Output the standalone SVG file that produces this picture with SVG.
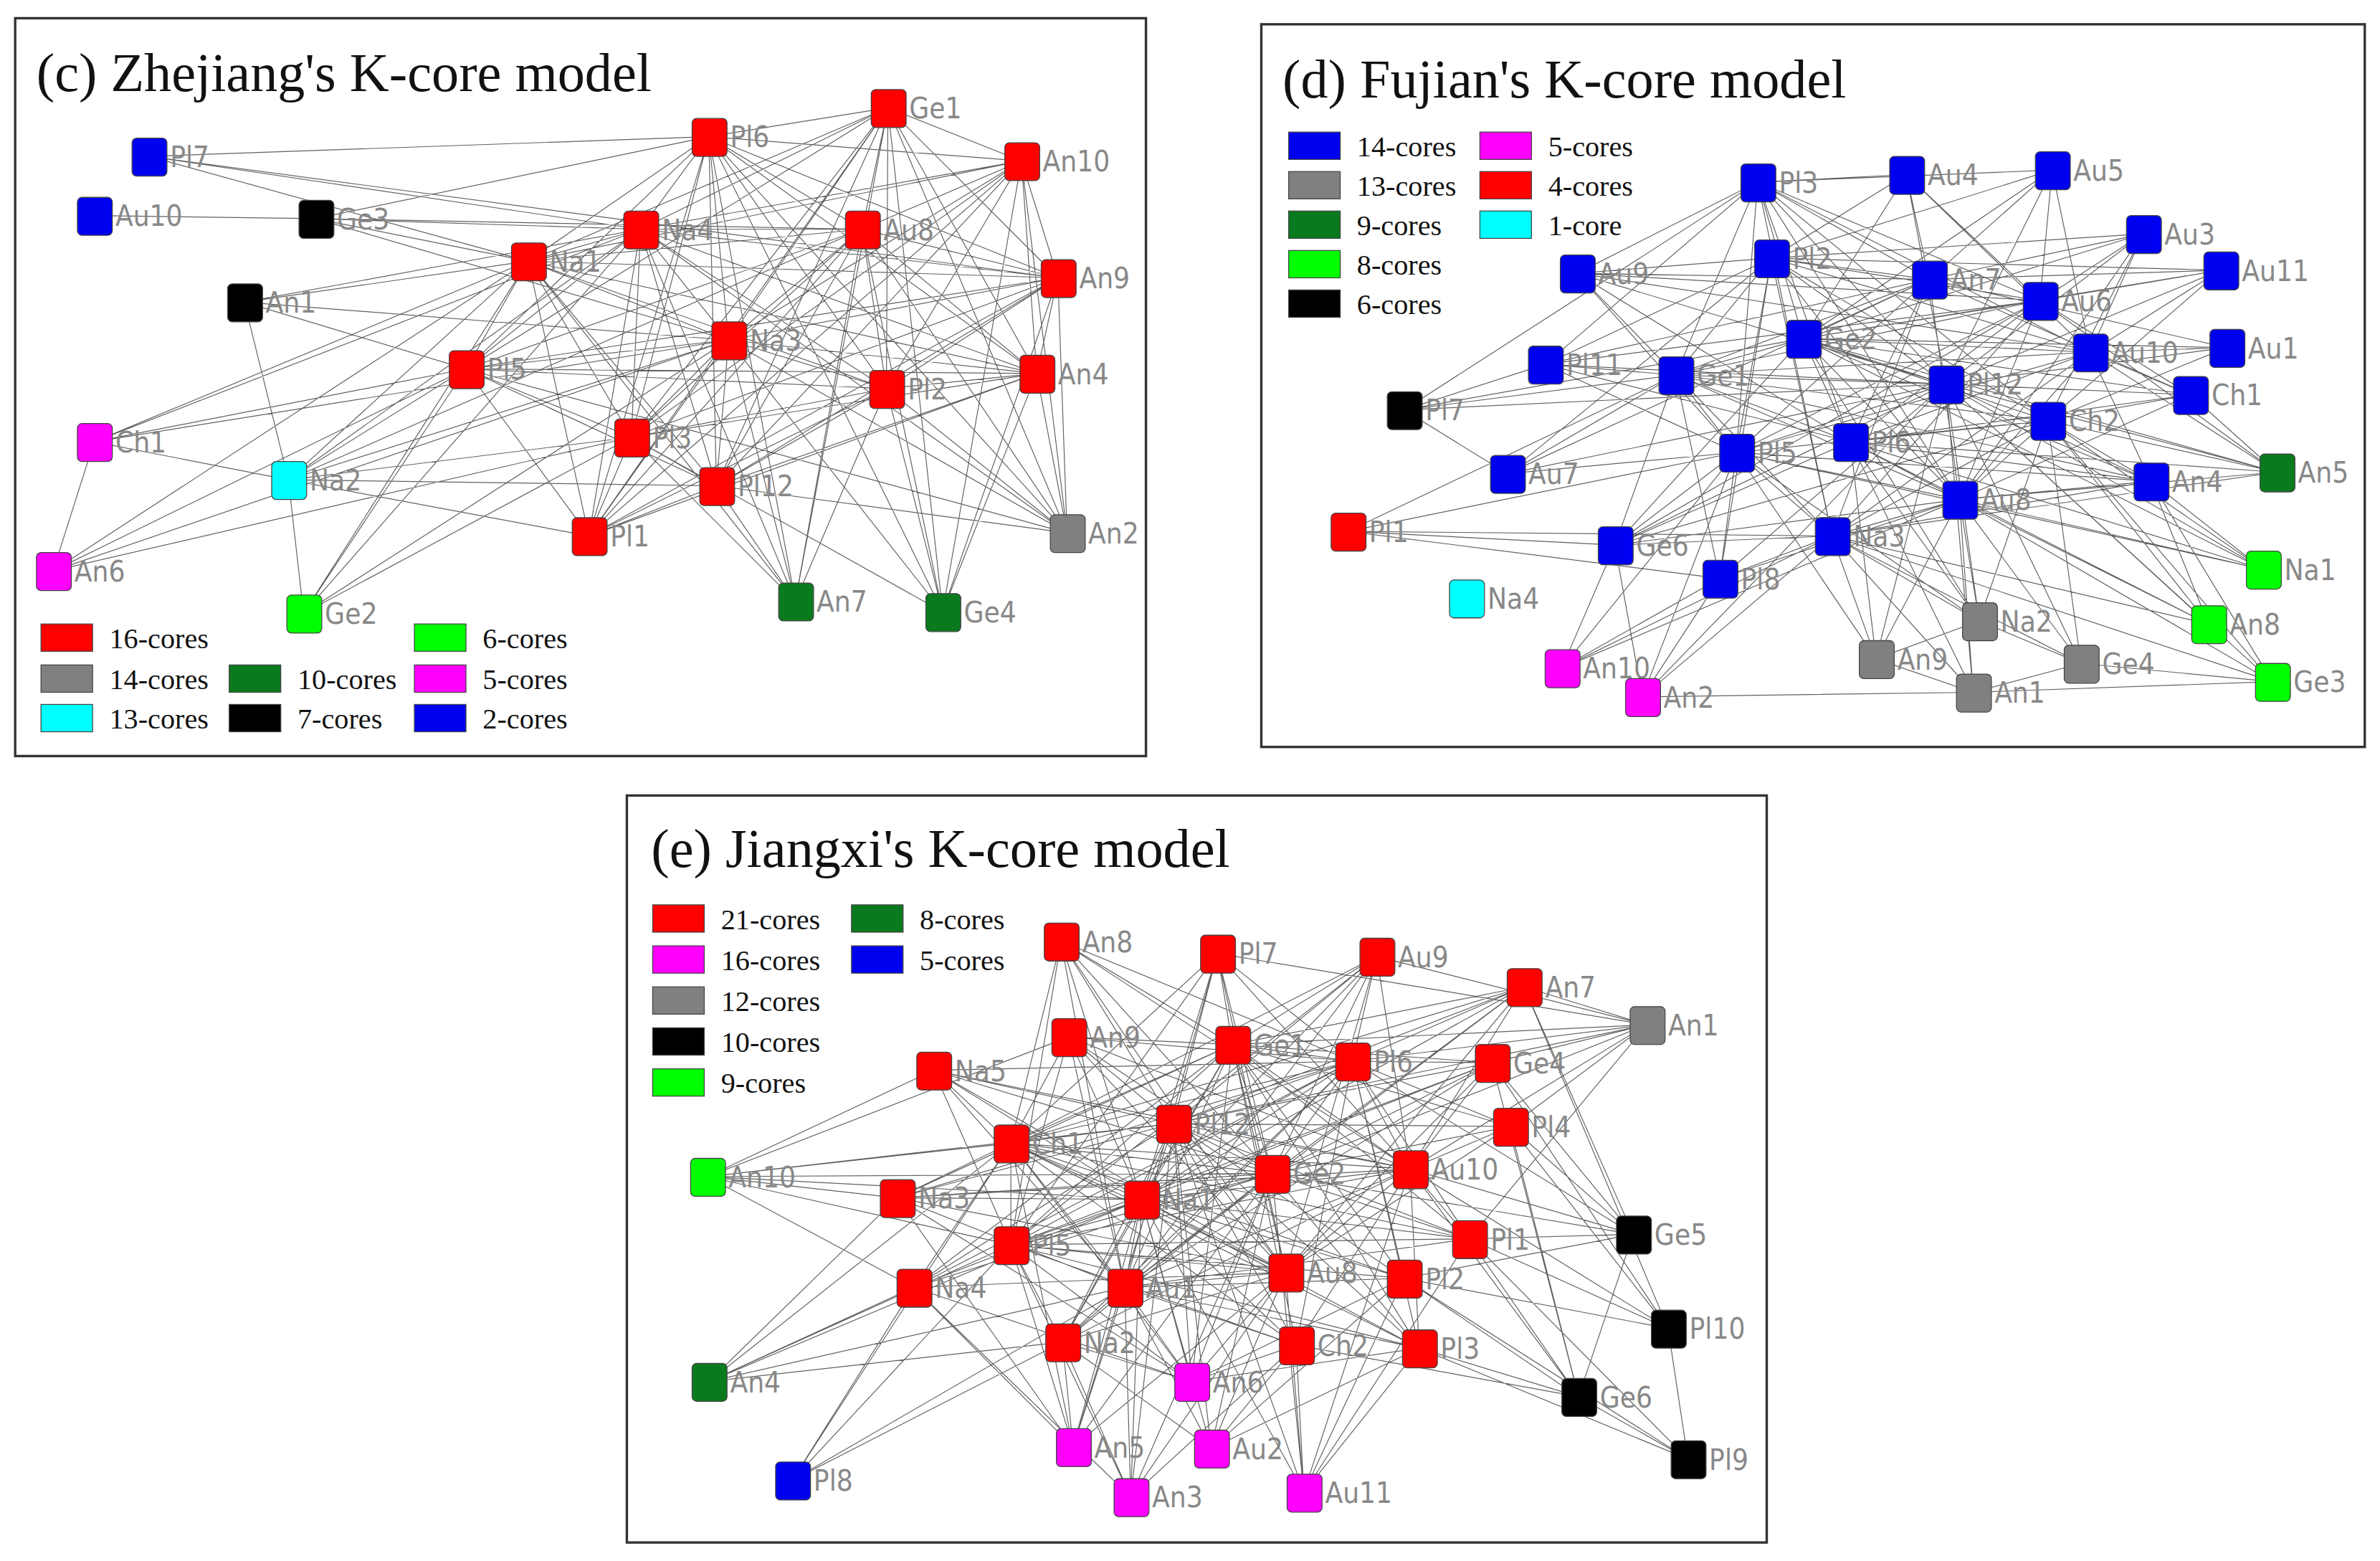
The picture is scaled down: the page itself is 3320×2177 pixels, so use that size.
<svg xmlns="http://www.w3.org/2000/svg" width="3320" height="2177" viewBox="0 0 3320 2177">
<style>
.bx{fill:none;stroke:#333;stroke-width:1.6}
.e{fill:none;stroke:#3a3a3a;stroke-width:0.55;stroke-linejoin:bevel;opacity:0.8}
.n rect{stroke:#444;stroke-width:0.6}
rect.n{stroke:#444;stroke-width:0.6}
.t{font-family:"Liberation Serif",serif;font-size:36px;fill:#111}
.g{font-family:"Liberation Serif",serif;font-size:19px;fill:#111}
.l{font-family:"DejaVu Sans Condensed","DejaVu Sans",sans-serif;font-size:19px;fill:#888}
.r{fill:#f00}.bl{fill:#0000f0}.gy{fill:#808080}.k{fill:#000}.cy{fill:#0ff}.lm{fill:#0f0}.dg{fill:#0a7a1e}.mg{fill:#f0f}
</style>
<rect width="3320" height="2177" fill="#fff"/>
<g transform="scale(2.1173)">
<rect class="bx" x="10" y="12" width="745" height="486"/>
<rect class="bx" x="831" y="16" width="727" height="476"/>
<rect class="bx" x="413" y="524" width="751" height="492"/>
<text class="t" x="24" y="60">(c) Zhejiang's K-core model</text>
<text class="t" x="845" y="64">(d) Fujian's K-core model</text>
<text class="t" x="429" y="571">(e) Jiangxi's K-core model</text>

<g id="connectors">
<path class="e" d="M467 90L585 71L467 90L673 106L467 90L422 151L467 90L568 151L467 90L348 172L467 90L697 183L467 90L480 224L467 90L307 243L467 90L584 256L467 90L683 246L467 90L416 288L467 90L472 320L467 90L388 353
M585 71L673 106L585 71L422 151L585 71L568 151L585 71L348 172L585 71L697 183L585 71L480 224L585 71L307 243L585 71L584 256L585 71L683 246L585 71L416 288L585 71L472 320L585 71L388 353
M673 106L422 151L673 106L568 151L673 106L348 172L673 106L697 183L673 106L480 224L673 106L584 256L673 106L683 246L673 106L416 288L673 106L472 320L673 106L388 353
M422 151L568 151L422 151L348 172L422 151L697 183L422 151L480 224L422 151L307 243L422 151L584 256L422 151L683 246L422 151L416 288L422 151L472 320L422 151L388 353
M568 151L348 172L568 151L697 183L568 151L480 224L568 151L307 243L568 151L584 256L568 151L683 246L568 151L416 288L568 151L472 320L568 151L388 353
M348 172L697 183L348 172L480 224L348 172L307 243L348 172L584 256L348 172L683 246L348 172L416 288L348 172L472 320L348 172L388 353
M697 183L480 224L697 183L307 243L697 183L584 256L697 183L683 246L697 183L416 288L697 183L472 320L697 183L388 353
M480 224L307 243L480 224L584 256L480 224L683 246L480 224L416 288L480 224L472 320L480 224L388 353
M307 243L584 256L307 243L683 246L307 243L416 288L307 243L472 320L307 243L388 353
M584 256L683 246L584 256L416 288L584 256L472 320L584 256L388 353
M683 246L416 288L683 246L472 320L683 246L388 353
M416 288L472 320L416 288L388 353M472 320L388 353
M703 351L467 90L703 351L585 71L703 351L673 106L703 351L422 151L703 351L568 151L703 351L697 183L703 351L480 224L703 351L584 256L703 351L683 246L703 351L472 320L703 351L307 243
M524 396L467 90L524 396L585 71L524 396L422 151L524 396L568 151L524 396L348 172L524 396L480 224L524 396L584 256L524 396L416 288L524 396L472 320
M621 403L467 90L621 403L585 71L621 403L673 106L621 403L568 151L621 403L697 183L621 403L480 224L621 403L584 256L621 403L683 246L621 403L416 288
M200 404L348 172L200 404L307 243L200 404L480 224L200 404L416 288L200 404L422 151L200 404L190 316
M190 316L307 243L190 316L348 172L190 316L480 224L190 316L422 151L190 316L416 288L190 316L472 320L190 316L388 353L190 316L568 151
M62 291L307 243L62 291L348 172L62 291L190 316L62 291L422 151L62 291L480 224L62 291L35 376
M35 376L307 243L35 376L416 288L35 376L348 172L35 376L480 224
M161 199L190 316L161 199L348 172L161 199L422 151L161 199L480 224L161 199L307 243
M208 144L422 151L208 144L348 172L208 144L467 90L208 144L568 151L208 144L480 224M62 142L208 144
M98 103L467 90L98 103L348 172L98 103L422 151L98 103L697 183"/>

<path class="e" d="M1282 253L1158 120L1282 253L1256 115L1282 253L1352 112L1282 253L1412 154L1282 253L1463 178L1282 253L1167 170L1282 253L1039 180L1282 253L1188 223L1282 253L1467 229L1282 253L1018 240L1282 253L1104 247L1282 253L1443 260L1282 253L1144 298L1282 253L993 312L1282 253L1417 317L1282 253L1064 359L1282 253L1133 381L1282 253L1304 409L1282 253L1236 434L1282 253L1371 437L1282 253L1300 456
M1188 223L1158 120L1188 223L1256 115L1188 223L1352 112L1188 223L1412 154L1188 223L1463 178L1188 223L1271 184L1188 223L1344 198L1188 223L1377 232L1188 223L1467 229L1188 223L1104 247L1188 223L1443 260L1188 223L1349 277L1188 223L1219 291L1188 223L1291 329L1188 223L1417 317L1188 223L1064 359L1188 223L1304 409
M1167 170L1256 115L1167 170L1352 112L1167 170L1412 154L1167 170L1463 178L1167 170L1271 184L1167 170L1344 198L1167 170L1039 180L1167 170L1377 232L1167 170L1018 240L1167 170L1104 247L1167 170L1349 277L1167 170L1144 298L1167 170L993 312L1167 170L1291 329L1167 170L1207 353L1167 170L1133 381
M1158 120L1256 115L1158 120L1352 112L1158 120L1271 184L1158 120L1344 198L1158 120L1039 180L1158 120L1377 232L1158 120L1018 240L1158 120L1104 247L1158 120L1144 298L1158 120L1219 291L1158 120L1349 277L1158 120L1291 329L1158 120L1207 353
M1271 184L1256 115L1271 184L1352 112L1271 184L1412 154L1271 184L1463 178L1271 184L1039 180L1271 184L1467 229L1271 184L1018 240L1271 184L1104 247L1271 184L1144 298L1271 184L1219 291L1271 184L1443 260L1271 184L1291 329L1271 184L1207 353L1271 184L993 312
M1344 198L1256 115L1344 198L1352 112L1344 198L1412 154L1344 198L1463 178L1344 198L1039 180L1344 198L1018 240L1344 198L1104 247L1344 198L1144 298L1344 198L1219 291L1344 198L1291 329L1344 198L1207 353L1344 198L1443 260L1344 198L1064 359
M1104 247L1039 180L1104 247L1018 240L1104 247L1144 298L1104 247L1219 291L1104 247L1377 232L1104 247L993 312L1104 247L1291 329L1104 247L1207 353L1104 247L1064 359L1104 247L1133 381L1104 247L1349 277L1104 247L1417 317
M1144 298L1039 180L1144 298L1018 240L1144 298L1377 232L1144 298L1349 277L1144 298L1291 329L1144 298L1417 317L1144 298L1207 353L1144 298L1064 359L1144 298L1133 381L1144 298L993 312L1144 298L1236 434L1144 298L1304 409
M1219 291L1039 180L1219 291L1018 240L1219 291L1377 232L1219 291L1443 260L1219 291L1349 277L1219 291L1291 329L1219 291L1417 317L1219 291L1064 359L1219 291L1304 409L1219 291L1236 434L1219 291L1300 456
M1291 329L1377 232L1291 329L1443 260L1291 329L1349 277L1291 329L1417 317L1291 329L1207 353L1291 329L1064 359L1291 329L1133 381L1291 329L1304 409L1291 329L1236 434L1291 329L1371 437L1291 329L1300 456L1291 329L1412 154
M1207 353L1349 277L1207 353L1417 317L1207 353L1064 359L1207 353L1133 381L1207 353L1304 409L1207 353L1236 434L1207 353L1371 437L1207 353L1300 456L1207 353L1377 232
M1349 277L1412 154L1349 277L1463 178L1349 277L1467 229L1349 277L1443 260L1349 277L1417 317L1349 277L1064 359L1349 277L1304 409L1349 277L1371 437
M1377 232L1256 115L1377 232L1352 112L1377 232L1412 154L1377 232L1463 178L1377 232L1467 229L1377 232L1443 260L1377 232L1417 317L1377 232L1039 180
M1500 311L1377 232L1500 311L1349 277L1500 311L1282 253L1500 311L1188 223L1500 311L1344 198L1500 311L1291 329L1500 311L1219 291L1500 311L1443 260L1500 311L1207 353
M1491 375L1349 277L1491 375L1282 253L1491 375L1291 329L1491 375L1417 317L1491 375L1219 291L1491 375L1188 223L1491 375L1144 298
M1455 411L1282 253L1455 411L1291 329L1455 411L1349 277L1455 411L1219 291L1455 411L1207 353L1455 411L1417 317
M1497 449L1417 317L1497 449L1291 329L1497 449L1349 277L1497 449L1207 353L1497 449L1300 456L1497 449L1371 437L1497 449L1282 253
M925 270L1018 240L925 270L1104 247L925 270L1158 120L925 270L1188 223L925 270L1282 253L925 270L993 312
M888 350L1064 359L888 350L1144 298L888 350L1133 381L888 350L1207 353L888 350L1104 247
M1029 440L1064 359L1029 440L1144 298L1029 440L1133 381L1029 440L1207 353L1029 440L1291 329
M1082 459L1133 381L1082 459L1064 359L1082 459L1207 353L1082 459L1282 253L1082 459L1144 298L1082 459L1300 456
M1300 456L1371 437L1300 456L1236 434M1304 409L1236 434L1304 409L1371 437"/>

<path class="e" d="M752 790L699 620L752 790L802 628L752 790L907 630L752 790L1004 650L752 790L704 683L752 790L812 688L752 790L891 699L752 790L983 700L752 790L615 705L752 790L995 742L752 790L773 740L752 790L666 753L752 790L838 773L752 790L929 770L752 790L591 789L752 790L968 816L752 790L666 820L752 790L847 838L752 790L925 842L752 790L741 848L752 790L602 848L752 790L700 884L752 790L854 886L752 790L935 888
M838 773L699 620L838 773L802 628L838 773L907 630L838 773L1004 650L838 773L704 683L838 773L812 688L838 773L891 699L838 773L983 700L838 773L615 705L838 773L995 742L838 773L773 740L838 773L666 753L838 773L591 789L838 773L968 816L838 773L666 820L838 773L741 848L838 773L602 848L838 773L700 884L838 773L935 888
M773 740L699 620L773 740L802 628L773 740L907 630L773 740L1004 650L773 740L704 683L773 740L891 699L773 740L983 700L773 740L615 705L773 740L995 742L773 740L666 753L773 740L929 770L773 740L591 789L773 740L968 816L773 740L847 838L773 740L925 842L773 740L602 848L773 740L700 884L773 740L854 886L773 740L935 888
M847 838L699 620L847 838L802 628L847 838L907 630L847 838L1004 650L847 838L704 683L847 838L812 688L847 838L983 700L847 838L615 705L847 838L666 753L847 838L929 770L847 838L591 789L847 838L666 820L847 838L741 848L847 838L602 848L847 838L700 884L847 838L995 742
M666 820L699 620L666 820L802 628L666 820L907 630L666 820L704 683L666 820L812 688L666 820L891 699L666 820L983 700L666 820L615 705L666 820L666 753L666 820L929 770L666 820L968 816L666 820L925 842L666 820L700 884L666 820L854 886L666 820L935 888
M666 753L699 620L666 753L802 628L666 753L907 630L666 753L704 683L666 753L812 688L666 753L891 699L666 753L615 705L666 753L929 770L666 753L591 789L666 753L968 816L666 753L925 842L666 753L741 848L666 753L602 848L666 753L854 886L666 753L935 888L666 753L1004 650
M741 848L699 620L741 848L802 628L741 848L907 630L741 848L704 683L741 848L812 688L741 848L891 699L741 848L983 700L741 848L615 705L741 848L929 770L741 848L591 789L741 848L968 816L741 848L925 842L741 848L700 884L741 848L854 886L741 848L935 888L741 848L1004 650
M929 770L699 620L929 770L802 628L929 770L907 630L929 770L1004 650L929 770L704 683L929 770L812 688L929 770L891 699L929 770L983 700L929 770L615 705L929 770L591 789L929 770L968 816L929 770L700 884L929 770L854 886L929 770L935 888L929 770L995 742
M812 688L699 620L812 688L802 628L812 688L907 630L812 688L1004 650L812 688L704 683L812 688L891 699L812 688L983 700L812 688L995 742L812 688L591 789L812 688L968 816L812 688L925 842L812 688L602 848L812 688L700 884L812 688L854 886L812 688L935 888
M891 699L699 620L891 699L802 628L891 699L907 630L891 699L1004 650L891 699L704 683L891 699L983 700L891 699L615 705L891 699L995 742L891 699L591 789L891 699L968 816L891 699L925 842L891 699L602 848L891 699L700 884L891 699L854 886L891 699L935 888
M1085 675L802 628L1085 675L907 630L1085 675L1004 650L1085 675L983 700L1085 675L995 742L1085 675L891 699L1085 675L812 688L1085 675L929 770L1085 675L838 773L1085 675L773 740L1085 675L968 816
M1076 813L995 742L1076 813L968 816L1076 813L929 770L1076 813L891 699L1076 813L983 700L1076 813L925 842L1076 813L838 773L1076 813L1004 650L1076 813L1040 920
M1099 875L995 742L1099 875L968 816L1099 875L983 700L1099 875L1004 650L1099 875L925 842L1099 875L929 770L1099 875L1112 961
M1040 920L925 842L1040 920L935 888L1040 920L968 816L1040 920L929 770L1040 920L854 886L1040 920L995 742L1040 920L1112 961L1040 920L983 700
M1112 961L935 888L1112 961L968 816L1112 961L925 842
M466 775L615 705L466 775L666 753L466 775L591 789L466 775L752 790L466 775L666 820L466 775L773 740L466 775L838 773L466 775L704 683L466 775L602 848
M467 910L591 789L467 910L602 848L467 910L666 820L467 910L666 753L467 910L700 884L467 910L752 790L467 910L741 848
M522 975L700 884L522 975L741 848L522 975L666 820L522 975L602 848L522 975L666 753
M785 910L752 790L785 910L773 740L785 910L838 773L785 910L666 753L785 910L741 848L785 910L666 820L785 910L700 884L785 910L847 838L785 910L854 886L785 910L935 888L785 910L925 842L785 910L812 688L785 910L602 848L785 910L591 789
M707 953L700 884L707 953L741 848L707 953L666 820L707 953L752 790L707 953L666 753L707 953L602 848L707 953L847 838L707 953L773 740L707 953L838 773L707 953L591 789
M798 954L741 848L798 954L752 790L798 954L854 886L798 954L847 838L798 954L773 740L798 954L838 773L798 954L935 888L798 954L700 884L798 954L925 842
M745 986L700 884L745 986L741 848L745 986L854 886L745 986L847 838L745 986L752 790L745 986L666 820L745 986L838 773L745 986L773 740L745 986L602 848
M859 983L854 886L859 983L847 838L859 983L925 842L859 983L935 888L859 983L838 773L859 983L752 790L859 983L929 770L859 983L968 816L859 983L773 740"/>
</g>

<g id="c-nodes">
<g id="c-Pl7"><rect class="n bl" x="87" y="91" width="23" height="25" rx="3"/><text class="l" x="112" y="110">Pl7</text></g>
<g id="c-Au10"><rect class="n bl" x="51" y="130" width="23" height="25" rx="3"/><text class="l" x="76" y="149">Au10</text></g>
<g id="c-Ge3"><rect class="n k" x="197" y="132" width="23" height="25" rx="3"/><text class="l" x="222" y="151">Ge3</text></g>
<g id="c-An1"><rect class="n k" x="150" y="187" width="23" height="25" rx="3"/><text class="l" x="175" y="206">An1</text></g>
<g id="c-Pl6"><rect class="n r" x="456" y="78" width="23" height="25" rx="3"/><text class="l" x="481" y="97">Pl6</text></g>
<g id="c-Ge1"><rect class="n r" x="574" y="59" width="23" height="25" rx="3"/><text class="l" x="599" y="78">Ge1</text></g>
<g id="c-An10"><rect class="n r" x="662" y="94" width="23" height="25" rx="3"/><text class="l" x="687" y="113">An10</text></g>
<g id="c-Na4"><rect class="n r" x="411" y="139" width="23" height="25" rx="3"/><text class="l" x="436" y="158">Na4</text></g>
<g id="c-Au8"><rect class="n r" x="557" y="139" width="23" height="25" rx="3"/><text class="l" x="582" y="158">Au8</text></g>
<g id="c-Na1"><rect class="n r" x="337" y="160" width="23" height="25" rx="3"/><text class="l" x="362" y="179">Na1</text></g>
<g id="c-An9"><rect class="n r" x="686" y="171" width="23" height="25" rx="3"/><text class="l" x="711" y="190">An9</text></g>
<g id="c-Na3"><rect class="n r" x="469" y="212" width="23" height="25" rx="3"/><text class="l" x="494" y="231">Na3</text></g>
<g id="c-Pl5"><rect class="n r" x="296" y="231" width="23" height="25" rx="3"/><text class="l" x="321" y="250">Pl5</text></g>
<g id="c-Pl2"><rect class="n r" x="573" y="244" width="23" height="25" rx="3"/><text class="l" x="598" y="263">Pl2</text></g>
<g id="c-An4"><rect class="n r" x="672" y="234" width="23" height="25" rx="3"/><text class="l" x="697" y="253">An4</text></g>
<g id="c-Ch1"><rect class="n mg" x="51" y="279" width="23" height="25" rx="3"/><text class="l" x="76" y="298">Ch1</text></g>
<g id="c-Pl3"><rect class="n r" x="405" y="276" width="23" height="25" rx="3"/><text class="l" x="430" y="295">Pl3</text></g>
<g id="c-Na2"><rect class="n cy" x="179" y="304" width="23" height="25" rx="3"/><text class="l" x="204" y="323">Na2</text></g>
<g id="c-Pl12"><rect class="n r" x="461" y="308" width="23" height="25" rx="3"/><text class="l" x="486" y="327">Pl12</text></g>
<g id="c-Pl1"><rect class="n r" x="377" y="341" width="23" height="25" rx="3"/><text class="l" x="402" y="360">Pl1</text></g>
<g id="c-An2"><rect class="n gy" x="692" y="339" width="23" height="25" rx="3"/><text class="l" x="717" y="358">An2</text></g>
<g id="c-An6"><rect class="n mg" x="24" y="364" width="23" height="25" rx="3"/><text class="l" x="49" y="383">An6</text></g>
<g id="c-Ge2"><rect class="n lm" x="189" y="392" width="23" height="25" rx="3"/><text class="l" x="214" y="411">Ge2</text></g>
<g id="c-An7"><rect class="n dg" x="513" y="384" width="23" height="25" rx="3"/><text class="l" x="538" y="403">An7</text></g>
<g id="c-Ge4"><rect class="n dg" x="610" y="391" width="23" height="25" rx="3"/><text class="l" x="635" y="410">Ge4</text></g>
</g>
<g id="c-legend">
<rect class="n r" x="27" y="411" width="34" height="18"/><text class="g" x="72" y="427">16-cores</text>
<rect class="n gy" x="27" y="438" width="34" height="18"/><text class="g" x="72" y="454">14-cores</text>
<rect class="n cy" x="27" y="464" width="34" height="18"/><text class="g" x="72" y="480">13-cores</text>
<rect class="n dg" x="151" y="438" width="34" height="18"/><text class="g" x="196" y="454">10-cores</text>
<rect class="n k" x="151" y="464" width="34" height="18"/><text class="g" x="196" y="480">7-cores</text>
<rect class="n lm" x="273" y="411" width="34" height="18"/><text class="g" x="318" y="427">6-cores</text>
<rect class="n mg" x="273" y="438" width="34" height="18"/><text class="g" x="318" y="454">5-cores</text>
<rect class="n bl" x="273" y="464" width="34" height="18"/><text class="g" x="318" y="480">2-cores</text>
</g>

<g id="d-nodes">
<g id="d-Pl3"><rect class="n bl" x="1147" y="108" width="23" height="25" rx="3"/><text class="l" x="1172" y="127">Pl3</text></g>
<g id="d-Au4"><rect class="n bl" x="1245" y="103" width="23" height="25" rx="3"/><text class="l" x="1270" y="122">Au4</text></g>
<g id="d-Au5"><rect class="n bl" x="1341" y="100" width="23" height="25" rx="3"/><text class="l" x="1366" y="119">Au5</text></g>
<g id="d-Au3"><rect class="n bl" x="1401" y="142" width="23" height="25" rx="3"/><text class="l" x="1426" y="161">Au3</text></g>
<g id="d-Au11"><rect class="n bl" x="1452" y="166" width="23" height="25" rx="3"/><text class="l" x="1477" y="185">Au11</text></g>
<g id="d-Pl2"><rect class="n bl" x="1156" y="158" width="23" height="25" rx="3"/><text class="l" x="1181" y="177">Pl2</text></g>
<g id="d-An7"><rect class="n bl" x="1260" y="172" width="23" height="25" rx="3"/><text class="l" x="1285" y="191">An7</text></g>
<g id="d-Au6"><rect class="n bl" x="1333" y="186" width="23" height="25" rx="3"/><text class="l" x="1358" y="205">Au6</text></g>
<g id="d-Au9"><rect class="n bl" x="1028" y="168" width="23" height="25" rx="3"/><text class="l" x="1053" y="187">Au9</text></g>
<g id="d-Ge2"><rect class="n bl" x="1177" y="211" width="23" height="25" rx="3"/><text class="l" x="1202" y="230">Ge2</text></g>
<g id="d-Au10"><rect class="n bl" x="1366" y="220" width="23" height="25" rx="3"/><text class="l" x="1391" y="239">Au10</text></g>
<g id="d-Au1"><rect class="n bl" x="1456" y="217" width="23" height="25" rx="3"/><text class="l" x="1481" y="236">Au1</text></g>
<g id="d-Pl11"><rect class="n bl" x="1007" y="228" width="23" height="25" rx="3"/><text class="l" x="1032" y="247">Pl11</text></g>
<g id="d-Ge1"><rect class="n bl" x="1093" y="235" width="23" height="25" rx="3"/><text class="l" x="1118" y="254">Ge1</text></g>
<g id="d-Pl12"><rect class="n bl" x="1271" y="241" width="23" height="25" rx="3"/><text class="l" x="1296" y="260">Pl12</text></g>
<g id="d-Ch1"><rect class="n bl" x="1432" y="248" width="23" height="25" rx="3"/><text class="l" x="1457" y="267">Ch1</text></g>
<g id="d-Ch2"><rect class="n bl" x="1338" y="265" width="23" height="25" rx="3"/><text class="l" x="1363" y="284">Ch2</text></g>
<g id="d-Pl7"><rect class="n k" x="914" y="258" width="23" height="25" rx="3"/><text class="l" x="939" y="277">Pl7</text></g>
<g id="d-Pl5"><rect class="n bl" x="1133" y="286" width="23" height="25" rx="3"/><text class="l" x="1158" y="305">Pl5</text></g>
<g id="d-Pl6"><rect class="n bl" x="1208" y="279" width="23" height="25" rx="3"/><text class="l" x="1233" y="298">Pl6</text></g>
<g id="d-Au7"><rect class="n bl" x="982" y="300" width="23" height="25" rx="3"/><text class="l" x="1007" y="319">Au7</text></g>
<g id="d-Au8"><rect class="n bl" x="1280" y="317" width="23" height="25" rx="3"/><text class="l" x="1305" y="336">Au8</text></g>
<g id="d-An4"><rect class="n bl" x="1406" y="305" width="23" height="25" rx="3"/><text class="l" x="1431" y="324">An4</text></g>
<g id="d-An5"><rect class="n dg" x="1489" y="299" width="23" height="25" rx="3"/><text class="l" x="1514" y="318">An5</text></g>
<g id="d-Pl1"><rect class="n r" x="877" y="338" width="23" height="25" rx="3"/><text class="l" x="902" y="357">Pl1</text></g>
<g id="d-Na3"><rect class="n bl" x="1196" y="341" width="23" height="25" rx="3"/><text class="l" x="1221" y="360">Na3</text></g>
<g id="d-Ge6"><rect class="n bl" x="1053" y="347" width="23" height="25" rx="3"/><text class="l" x="1078" y="366">Ge6</text></g>
<g id="d-Pl8"><rect class="n bl" x="1122" y="369" width="23" height="25" rx="3"/><text class="l" x="1147" y="388">Pl8</text></g>
<g id="d-Na1"><rect class="n lm" x="1480" y="363" width="23" height="25" rx="3"/><text class="l" x="1505" y="382">Na1</text></g>
<g id="d-Na4"><rect class="n cy" x="955" y="382" width="23" height="25" rx="3"/><text class="l" x="980" y="401">Na4</text></g>
<g id="d-Na2"><rect class="n gy" x="1293" y="397" width="23" height="25" rx="3"/><text class="l" x="1318" y="416">Na2</text></g>
<g id="d-An8"><rect class="n lm" x="1444" y="399" width="23" height="25" rx="3"/><text class="l" x="1469" y="418">An8</text></g>
<g id="d-An9"><rect class="n gy" x="1225" y="422" width="23" height="25" rx="3"/><text class="l" x="1250" y="441">An9</text></g>
<g id="d-Ge4"><rect class="n gy" x="1360" y="425" width="23" height="25" rx="3"/><text class="l" x="1385" y="444">Ge4</text></g>
<g id="d-An10"><rect class="n mg" x="1018" y="428" width="23" height="25" rx="3"/><text class="l" x="1043" y="447">An10</text></g>
<g id="d-Ge3"><rect class="n lm" x="1486" y="437" width="23" height="25" rx="3"/><text class="l" x="1511" y="456">Ge3</text></g>
<g id="d-An1"><rect class="n gy" x="1289" y="444" width="23" height="25" rx="3"/><text class="l" x="1314" y="463">An1</text></g>
<g id="d-An2"><rect class="n mg" x="1071" y="447" width="23" height="25" rx="3"/><text class="l" x="1096" y="466">An2</text></g>
</g>
<g id="d-legend">
<rect class="n bl" x="849" y="87" width="34" height="18"/><text class="g" x="894" y="103">14-cores</text>
<rect class="n gy" x="849" y="113" width="34" height="18"/><text class="g" x="894" y="129">13-cores</text>
<rect class="n dg" x="849" y="139" width="34" height="18"/><text class="g" x="894" y="155">9-cores</text>
<rect class="n lm" x="849" y="165" width="34" height="18"/><text class="g" x="894" y="181">8-cores</text>
<rect class="n k" x="849" y="191" width="34" height="18"/><text class="g" x="894" y="207">6-cores</text>
<rect class="n mg" x="975" y="87" width="34" height="18"/><text class="g" x="1020" y="103">5-cores</text>
<rect class="n r" x="975" y="113" width="34" height="18"/><text class="g" x="1020" y="129">4-cores</text>
<rect class="n cy" x="975" y="139" width="34" height="18"/><text class="g" x="1020" y="155">1-core</text>
</g>

<g id="e-nodes">
<g id="e-An8"><rect class="n r" x="688" y="608" width="23" height="25" rx="3"/><text class="l" x="713" y="627">An8</text></g>
<g id="e-Pl7"><rect class="n r" x="791" y="616" width="23" height="25" rx="3"/><text class="l" x="816" y="635">Pl7</text></g>
<g id="e-Au9"><rect class="n r" x="896" y="618" width="23" height="25" rx="3"/><text class="l" x="921" y="637">Au9</text></g>
<g id="e-An7"><rect class="n r" x="993" y="638" width="23" height="25" rx="3"/><text class="l" x="1018" y="657">An7</text></g>
<g id="e-An1"><rect class="n gy" x="1074" y="663" width="23" height="25" rx="3"/><text class="l" x="1099" y="682">An1</text></g>
<g id="e-An9"><rect class="n r" x="693" y="671" width="23" height="25" rx="3"/><text class="l" x="718" y="690">An9</text></g>
<g id="e-Ge1"><rect class="n r" x="801" y="676" width="23" height="25" rx="3"/><text class="l" x="826" y="695">Ge1</text></g>
<g id="e-Pl6"><rect class="n r" x="880" y="687" width="23" height="25" rx="3"/><text class="l" x="905" y="706">Pl6</text></g>
<g id="e-Ge4"><rect class="n r" x="972" y="688" width="23" height="25" rx="3"/><text class="l" x="997" y="707">Ge4</text></g>
<g id="e-Na5"><rect class="n r" x="604" y="693" width="23" height="25" rx="3"/><text class="l" x="629" y="712">Na5</text></g>
<g id="e-Pl4"><rect class="n r" x="984" y="730" width="23" height="25" rx="3"/><text class="l" x="1009" y="749">Pl4</text></g>
<g id="e-Pl12"><rect class="n r" x="762" y="728" width="23" height="25" rx="3"/><text class="l" x="787" y="747">Pl12</text></g>
<g id="e-Ch1"><rect class="n r" x="655" y="741" width="23" height="25" rx="3"/><text class="l" x="680" y="760">Ch1</text></g>
<g id="e-An10"><rect class="n lm" x="455" y="763" width="23" height="25" rx="3"/><text class="l" x="480" y="782">An10</text></g>
<g id="e-Ge2"><rect class="n r" x="827" y="761" width="23" height="25" rx="3"/><text class="l" x="852" y="780">Ge2</text></g>
<g id="e-Au10"><rect class="n r" x="918" y="758" width="23" height="25" rx="3"/><text class="l" x="943" y="777">Au10</text></g>
<g id="e-Na3"><rect class="n r" x="580" y="777" width="23" height="25" rx="3"/><text class="l" x="605" y="796">Na3</text></g>
<g id="e-Na1"><rect class="n r" x="741" y="778" width="23" height="25" rx="3"/><text class="l" x="766" y="797">Na1</text></g>
<g id="e-Pl1"><rect class="n r" x="957" y="804" width="23" height="25" rx="3"/><text class="l" x="982" y="823">Pl1</text></g>
<g id="e-Ge5"><rect class="n k" x="1065" y="801" width="23" height="25" rx="3"/><text class="l" x="1090" y="820">Ge5</text></g>
<g id="e-Pl5"><rect class="n r" x="655" y="808" width="23" height="25" rx="3"/><text class="l" x="680" y="827">Pl5</text></g>
<g id="e-Au8"><rect class="n r" x="836" y="826" width="23" height="25" rx="3"/><text class="l" x="861" y="845">Au8</text></g>
<g id="e-Pl2"><rect class="n r" x="914" y="830" width="23" height="25" rx="3"/><text class="l" x="939" y="849">Pl2</text></g>
<g id="e-Au1"><rect class="n r" x="730" y="836" width="23" height="25" rx="3"/><text class="l" x="755" y="855">Au1</text></g>
<g id="e-Na4"><rect class="n r" x="591" y="836" width="23" height="25" rx="3"/><text class="l" x="616" y="855">Na4</text></g>
<g id="e-Na2"><rect class="n r" x="689" y="872" width="23" height="25" rx="3"/><text class="l" x="714" y="891">Na2</text></g>
<g id="e-Ch2"><rect class="n r" x="843" y="874" width="23" height="25" rx="3"/><text class="l" x="868" y="893">Ch2</text></g>
<g id="e-Pl3"><rect class="n r" x="924" y="876" width="23" height="25" rx="3"/><text class="l" x="949" y="895">Pl3</text></g>
<g id="e-Pl10"><rect class="n k" x="1088" y="863" width="23" height="25" rx="3"/><text class="l" x="1113" y="882">Pl10</text></g>
<g id="e-An6"><rect class="n mg" x="774" y="898" width="23" height="25" rx="3"/><text class="l" x="799" y="917">An6</text></g>
<g id="e-An4"><rect class="n dg" x="456" y="898" width="23" height="25" rx="3"/><text class="l" x="481" y="917">An4</text></g>
<g id="e-Ge6"><rect class="n k" x="1029" y="908" width="23" height="25" rx="3"/><text class="l" x="1054" y="927">Ge6</text></g>
<g id="e-An5"><rect class="n mg" x="696" y="941" width="23" height="25" rx="3"/><text class="l" x="721" y="960">An5</text></g>
<g id="e-Au2"><rect class="n mg" x="787" y="942" width="23" height="25" rx="3"/><text class="l" x="812" y="961">Au2</text></g>
<g id="e-Pl9"><rect class="n k" x="1101" y="949" width="23" height="25" rx="3"/><text class="l" x="1126" y="968">Pl9</text></g>
<g id="e-Pl8"><rect class="n bl" x="511" y="963" width="23" height="25" rx="3"/><text class="l" x="536" y="982">Pl8</text></g>
<g id="e-An3"><rect class="n mg" x="734" y="974" width="23" height="25" rx="3"/><text class="l" x="759" y="993">An3</text></g>
<g id="e-Au11"><rect class="n mg" x="848" y="971" width="23" height="25" rx="3"/><text class="l" x="873" y="990">Au11</text></g>
</g>
<g id="e-legend">
<rect class="n r" x="430" y="596" width="34" height="18"/><text class="g" x="475" y="612">21-cores</text>
<rect class="n mg" x="430" y="623" width="34" height="18"/><text class="g" x="475" y="639">16-cores</text>
<rect class="n gy" x="430" y="650" width="34" height="18"/><text class="g" x="475" y="666">12-cores</text>
<rect class="n k" x="430" y="677" width="34" height="18"/><text class="g" x="475" y="693">10-cores</text>
<rect class="n lm" x="430" y="704" width="34" height="18"/><text class="g" x="475" y="720">9-cores</text>
<rect class="n dg" x="561" y="596" width="34" height="18"/><text class="g" x="606" y="612">8-cores</text>
<rect class="n bl" x="561" y="623" width="34" height="18"/><text class="g" x="606" y="639">5-cores</text>
</g>
</g>
</svg>
